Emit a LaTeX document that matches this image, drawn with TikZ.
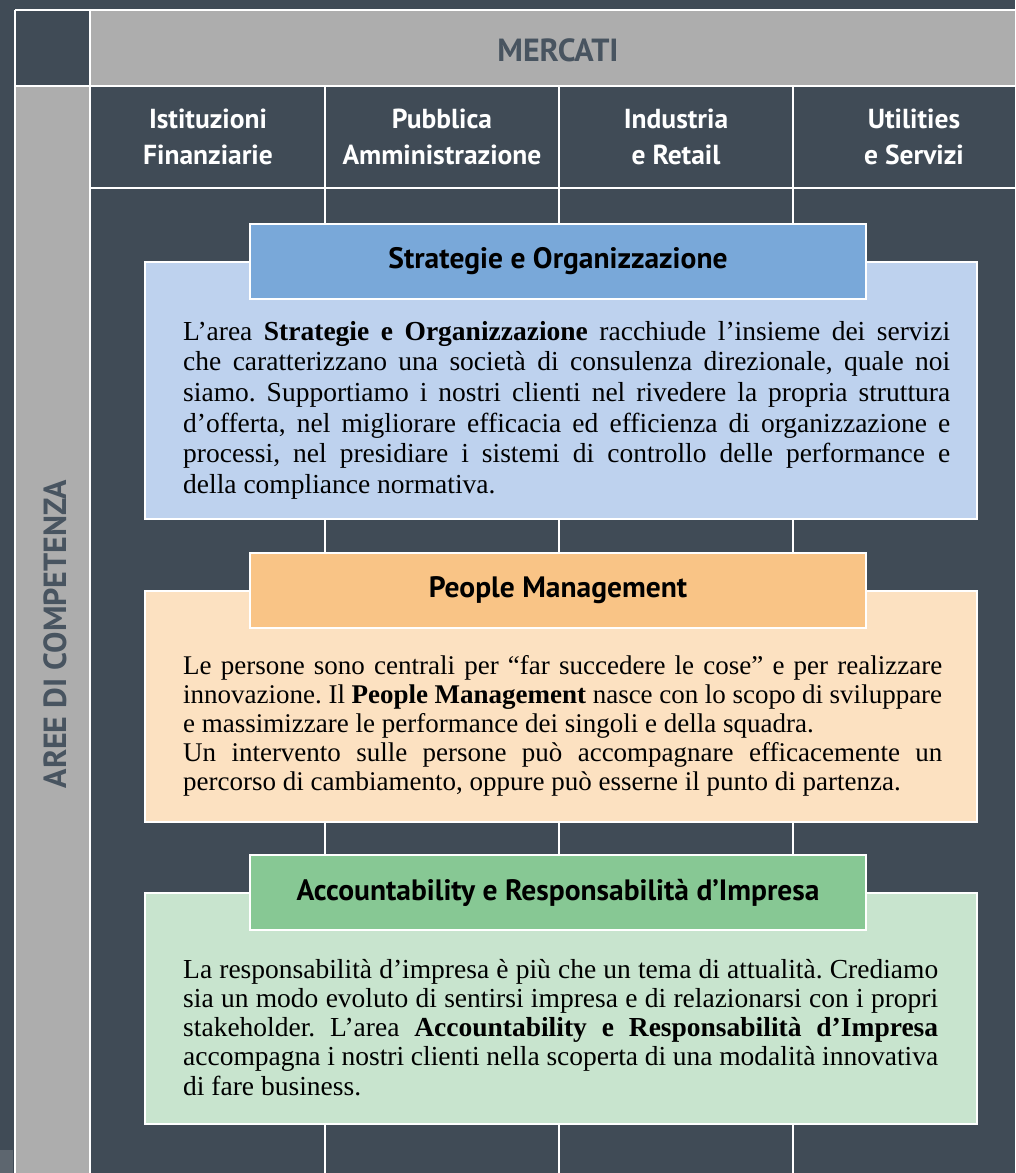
\documentclass[tikz,border=0pt]{standalone}
\usepackage{fontspec}
\usepackage{tikz}
\setmainfont{Liberation Serif}
\newfontfamily\headfont{PT Sans}
\newcommand\nohyphens{\frenchspacing\hyphenpenalty=10000\relax}
\definecolor{slate}{RGB}{64,75,86}
\definecolor{slatetext}{RGB}{72,84,96}
\definecolor{bargray}{RGB}{173,173,173}
\definecolor{sohead}{RGB}{121,168,217}
\definecolor{sobody}{RGB}{190,210,238}
\definecolor{pmhead}{RGB}{249,196,134}
\definecolor{pmbody}{RGB}{252,225,193}
\definecolor{arhead}{RGB}{135,200,148}
\definecolor{arbody}{RGB}{200,228,206}
\tikzset{
	gridline/.style={white, line width=2.2pt},
	boxline/.style={draw=white, line width=2.2pt},
	colhead/.style={text=white, align=center, font=\headfont\bfseries\fontsize{27.5}{36}\selectfont},
	bartitle/.style={text=slatetext, font=\headfont\bfseries\fontsize{32}{34}\selectfont},
	areahead/.style={boxline, minimum width=616pt, minimum height=75pt, inner sep=0pt, text=black, font=\headfont\bfseries\fontsize{29.5}{32}\selectfont},
	bodytext/.style 2 args={anchor=north west, inner sep=0pt, text=black, align=justify, font=\nohyphens\fontsize{#1}{#2}\selectfont},
}

\begin{document}
\begin{tikzpicture}[x=1pt, y=-1pt]
			%%%%% START %%%%%
			\useasboundingbox (0, 0) rectangle (1015, 1173);
			\fill[slate] (0, 0) rectangle (1015, 1173);
			\fill[slate!85!white] (0, 1150) rectangle (13, 1173);
			
			% bars
			\fill[bargray] (90, 10) rectangle (1015, 86);
			\fill[bargray] (15, 86) rectangle (90, 1173);
			
			% grid
			\draw[gridline] (15, 10) -- (1015, 10);
			\draw[gridline] (15, 86) -- (1015, 86);
			\draw[gridline] (90, 188) -- (1015, 188);
			\draw[gridline] (15, 10) -- (15, 1173);
			\draw[gridline] (90, 10) -- (90, 1173);
			\foreach \xc in {325, 559, 793}
				\draw[gridline] (\xc, 86) -- (\xc, 1173);
			
			\node[bartitle] (mercati) at (558, 50) {MERCATI};
			\node[bartitle, rotate=90] (aree) at (55, 634) {AREE DI COMPETENZA};
			
			\node[colhead] (istituzioni) at (208, 137) {Istituzioni\\Finanziarie};
			\node[colhead] (pubblica) at (442, 137) {Pubblica\\Amministrazione};
			\node[colhead] (industria) at (676, 137) {Industria\\e Retail};
			\node[colhead] (utilities) at (914, 137) {Utilities\\e Servizi};
			
			% Strategie e Organizzazione
			\draw[boxline, fill=sobody] (145, 262) rectangle (977, 519);
			\node[areahead, fill=sohead] (soHead) at (558, 261.5) {Strategie e Organizzazione};
			\node[bodytext={27.5}{30.6}, text width=767pt] (soText) at (183, 321) {L’area \textbf{Strategie e Organizzazione} racchiude l’insieme dei servizi\linebreak
				che caratterizzano una società di consulenza direzionale, quale noi\linebreak
				siamo. Supportiamo i nostri clienti nel rivedere la propria struttura\linebreak
				d’offerta, nel migliorare efficacia ed efficienza di organizzazione e\linebreak
				processi, nel presidiare i sistemi di controllo delle performance e\linebreak
				della compliance normativa.};
			
			% People Management
			\draw[boxline, fill=pmbody] (145, 591) rectangle (977, 822);
			\node[areahead, fill=pmhead] (pmHead) at (558, 590.5) {People Management};
			\node[bodytext={27}{29}, text width=759pt] (pmText) at (183, 655) {Le persone sono centrali per “far succedere le cose” e per realizzare\linebreak
				innovazione. Il \textbf{People Management} nasce con lo scopo di sviluppare\linebreak
				e massimizzare le performance dei singoli e della squadra.\\
				Un intervento sulle persone può accompagnare efficacemente un\linebreak
				percorso di cambiamento, oppure può esserne il punto di partenza.};
			
			% Accountability e Responsabilita d'Impresa
			\draw[boxline, fill=arbody] (145, 893) rectangle (977, 1124);
			\node[bodytext={27.5}{29.2}, text width=755pt] (arText) at (183, 959) {La responsabilità d’impresa è più che un tema di attualità. Crediamo\linebreak
				sia un modo evoluto di sentirsi impresa e di relazionarsi con i propri\linebreak
				stakeholder. L’area \textbf{Accountability e Responsabilità d’Impresa}\linebreak
				accompagna i nostri clienti nella scoperta di una modalità innovativa\linebreak
				di fare business.};
			\node[areahead, fill=arhead] (arHead) at (558, 892.5) {Accountability e Responsabilità d’Impresa};
			%%%%% END %%%%%
\end{tikzpicture}
\end{document}
